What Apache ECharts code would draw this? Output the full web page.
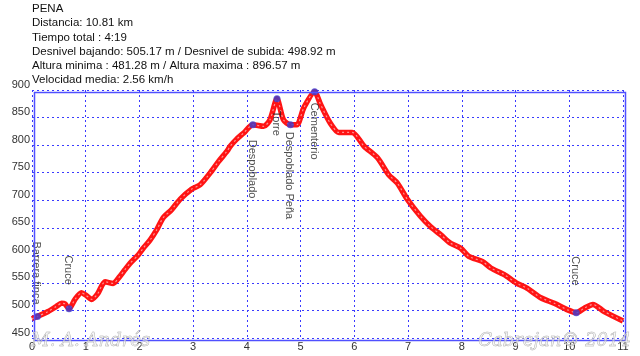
<!DOCTYPE html>
<html lang="es">
<head>
<meta charset="utf-8">
<title>PENA</title>
<script src="https://cdn.jsdelivr.net/npm/echarts@6/dist/echarts.min.js"></script>
<style>
  html, body { margin: 0; padding: 0; background: #fff; }
  #main { width: 640px; height: 356px; }
</style>
</head>
<body>
<div id="main"></div>
<script>
// perfil del recorrido: distancia (km) / altura (m)
var distKm = [0.00, 0.10, 0.30, 0.45, 0.55, 0.61, 0.69, 0.80, 0.92, 1.00, 1.11, 1.22, 1.36, 1.51, 1.62,
  1.73, 1.82, 1.98, 2.07, 2.20, 2.32, 2.44, 2.60, 2.76, 2.97, 3.13, 3.32, 3.47, 3.63, 3.69, 3.80, 3.94,
  4.11, 4.31, 4.43, 4.56, 4.68, 4.81, 4.93, 5.06, 5.26, 5.37, 5.55, 5.71, 5.96, 6.18, 6.43, 6.64, 6.80,
  6.99, 7.23, 7.42, 7.61, 7.79, 7.98, 8.13, 8.38, 8.54, 8.79, 9.01, 9.22, 9.47, 9.72, 9.97, 10.13,
  10.28, 10.44, 10.65, 11.00];
var altM = [485, 489, 498, 507, 513, 512, 503, 520, 532, 528, 520, 530, 552, 549, 560,
  574, 585, 601, 613, 628, 646, 668, 683, 702, 720, 728, 750, 770, 789, 798, 810, 822,
  837, 834, 846, 884, 846, 837, 837, 868, 897, 874, 840, 823, 823, 798, 777, 746, 731,
  701, 671, 652, 637, 622, 613, 598, 589, 577, 565, 550, 540, 523, 513, 501, 496,
  504, 511, 498, 481];

// puntos de paso
var wpNames = ['Barrera finca', 'Cruce', 'Despoblado', 'Torre', 'Despoblado Peña', 'Cementerio', 'Cruce'];
var wpKm = [0.10, 0.69, 4.11, 4.56, 4.81, 5.26, 10.13];
var wpAlt = [489, 503, 837, 884, 837, 897, 496];

var headerLines = [
  'PENA',
  'Distancia: 10.81 km',
  'Tiempo total : 4:19',
  'Desnivel bajando: 505.17 m / Desnivel de subida: 498.92 m',
  'Altura minima : 481.28 m / Altura maxima : 896.57 m',
  'Velocidad media: 2.56 km/h'
];

// etiqueta arriba (-) o abajo (+) del punto, con su separacion
var labelGap = [-12, -24, 15, 12, 7, 11, -27];

var perfil = distKm.map(function (d, i) { return [d, altM[i]]; });
var puntos = wpKm.map(function (d, i) {
  var g = labelGap[i];
  return {
    value: [d, wpAlt[i]],
    name: wpNames[i],
    label: {
      align: g < 0 ? 'right' : 'left',
      offset: [g, 1]
    }
  };
});

var myChart = echarts.init(document.getElementById('main'));

var option = {
  animation: false,
  backgroundColor: '#fff',
  grid: { left: 32, right: 17, top: 90, bottom: 18, show: false },
  xAxis: {
    type: 'value', min: 0, max: 11, interval: 1,
    axisLine: { show: false },
    axisTick: { show: false },
    axisLabel: { color: '#333', fontSize: 11, fontFamily: 'Liberation Sans', margin: 3 },
    splitLine: { show: true, lineStyle: { color: '#3a3aff', type: [2, 3], width: 1 } }
  },
  yAxis: {
    type: 'value', min: 450, max: 900, interval: 50,
    axisLine: { show: false },
    axisTick: { show: false },
    axisLabel: { color: '#333', fontSize: 11, fontFamily: 'Liberation Sans', margin: 2, verticalAlign: 'bottom', lineHeight: 11 },
    splitLine: { show: true, lineStyle: { color: '#3a3aff', type: [2, 3], width: 1 } }
  },
  graphic: [
    {
      type: 'rect', left: 32, top: 90, z: 10, silent: true,
      shape: { width: 591, height: 248 },
      style: { fill: 'none', stroke: '#5050ff', lineWidth: 1.5 }
    },
    {
      type: 'text', left: 32, top: 2, z: 10,
      style: {
        text: headerLines.join('\n'),
        fill: '#111', font: '11.5px "Liberation Sans", Arial, sans-serif',
        lineHeight: 14.2
      }
    },
    {
      type: 'text', left: 31, top: 332, z: 20,
      style: {
        text: 'M. A. Andrés',
        fill: 'rgba(240,240,240,0.5)', stroke: '#9a9a9a', lineWidth: 0.5,
        font: 'italic 18px "DejaVu Serif", serif'
      }
    },
    {
      type: 'text', left: 478, top: 332, z: 20,
      style: {
        text: 'Cabrejan© 2014',
        fill: 'rgba(240,240,240,0.5)', stroke: '#9a9a9a', lineWidth: 0.5,
        font: 'italic 18px "DejaVu Serif", serif'
      }
    }
  ],
  series: [
    {
      type: 'line',
      data: perfil,
      smooth: 0.25,
      showSymbol: false,
      lineStyle: { color: '#ff1414', width: 5.5 },
      z: 3
    },
    {
      type: 'line',
      data: perfil,
      smooth: 0.25,
      showSymbol: false,
      lineStyle: { color: 'rgba(255,160,160,0.9)', width: 1.2, type: [2, 3] },
      z: 4
    },
    {
      type: 'scatter',
      data: puntos,
      symbol: 'circle',
      symbolSize: 7,
      itemStyle: { color: '#3c3ccf' },
      z: 5,
      label: {
        show: true,
        position: 'inside',
        rotate: -90,
        verticalAlign: 'middle',
        formatter: '{b}',
        color: '#222',
        fontSize: 11,
        fontFamily: 'Liberation Sans'
      }
    }
  ]
};

myChart.setOption(option);
</script>
</body>
</html>
